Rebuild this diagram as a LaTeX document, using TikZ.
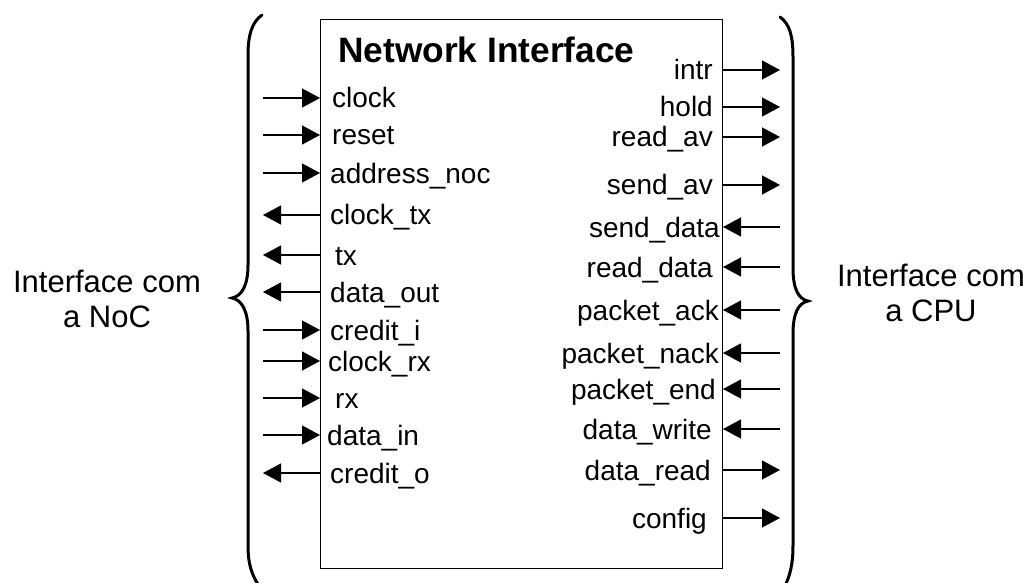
\documentclass[tikz,border=0pt]{standalone}
\usepackage{fontspec}
\setmainfont{Liberation Sans}
\usetikzlibrary{arrows.meta}
\tikzset{
  sig/.style={font=\fontsize{28}{32}\selectfont, inner sep=0pt},
  wire/.style={line width=1.2pt, -{Triangle[length=18pt,width=19pt]}},
  brace/.style={line width=3pt, line cap=round},
  side/.style={font=\fontsize{31}{35}\selectfont, align=center, inner sep=0pt},
  titlestyle/.style={font=\bfseries\fontsize{35.3}{40}\selectfont, inner sep=0pt},
  boxstyle/.style={draw, line width=1pt, inner sep=0pt},
}
\begin{document}
\begin{tikzpicture}[x=1pt,y=-1pt]
\useasboundingbox (0,0) rectangle (1034,583);
% main block
\node[boxstyle, minimum width=402pt, minimum height=549pt, anchor=north west] (NI) at (320,19) {};
\node[titlestyle, anchor=base west] (title) at (338,63) {Network Interface};
% left side inputs
\foreach \nm/\yy/\xx/\txt in {clock/98/332/clock, reset/135/332/reset, addr/173/330/address\_noc,
  crediti/330/330/credit\_i, clockrx/361/328/clock\_rx, rx/398/335/rx, datain/435/327/data\_in}{
  \coordinate (\nm S) at (263,\yy);
  \draw[wire] (\nm S) -- (\nm S -| NI.west);
  \node[sig, anchor=base west] (\nm L) at (\xx,\yy+10) {\txt};
}
% left side outputs
\foreach \nm/\yy/\xx/\txt in {clocktx/215/330/clock\_tx, tx/255/335/tx, dataout/292/330/data\_out,
  crediteo/473/330/credit\_o}{
  \coordinate (\nm S) at (263,\yy);
  \draw[wire] (\nm S -| NI.west) -- (\nm S);
  \node[sig, anchor=base west] (\nm L) at (\xx,\yy+10) {\txt};
}
% right side outputs
\foreach \nm/\yy/\xx/\txt in {intr/70/713/intr, hold/107/713/hold, readav/137/713/read\_av,
  sendav/185/713/send\_av, dataread/470/711/data\_read, config/518/707/config}{
  \coordinate (\nm S) at (780,\yy);
  \draw[wire] (\nm S -| NI.east) -- (\nm S);
  \node[sig, anchor=base east] (\nm L) at (\xx,\yy+10) {\txt};
}
% right side inputs
\foreach \nm/\yy/\xx/\txt in {senddata/227/720/send\_data, readdata/267/713/read\_data,
  pack/310/719/packet\_ack, pnack/353/719/packet\_nack, pend/389/716/packet\_end,
  datawrite/429/712/data\_write}{
  \coordinate (\nm S) at (780,\yy);
  \draw[wire] (\nm S) -- (\nm S -| NI.east);
  \node[sig, anchor=base east] (\nm L) at (\xx,\yy+10) {\txt};
}
% braces
\draw[brace] (262,15) .. controls (252,22) and (248,35) .. (248,55) -- (248,265)
  .. controls (248,285) and (242,296) .. (232,298)
  .. controls (242,300) and (248,311) .. (248,331) -- (248,545)
  .. controls (248,565) and (252,575) .. (259,586);
\draw[brace] (780,17) .. controls (790,24) and (793,37) .. (793,57) -- (793,268)
  .. controls (793,288) and (798,299) .. (808,301)
  .. controls (798,303) and (793,314) .. (793,334) -- (793,545)
  .. controls (793,565) and (790,575) .. (785,586);
% side labels (base anchor = baseline of the last line)
\node[side, anchor=base] (noc) at (107,327) {Interface com\\a NoC};
\node[side, anchor=base] (cpu) at (931,321) {Interface com\\a CPU};
\end{tikzpicture}
\end{document}
